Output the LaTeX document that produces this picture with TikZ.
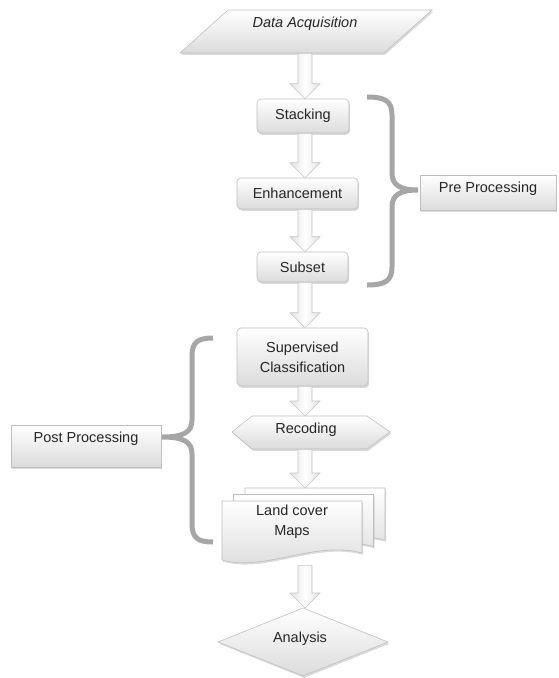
\documentclass[tikz,border=0pt]{standalone}
\usepackage{fontspec}
\setmainfont{Liberation Sans}
\usetikzlibrary{calc,shadows}

\tikzset{
  shade box/.style={draw=gray!50, line width=0.6pt, top color=white, bottom color=gray!28,
    drop shadow={shadow xshift=1.2pt, shadow yshift=-1.8pt, opacity=0.35, fill=gray!80}},
  procbox/.style={shade box, rounded corners=4pt, inner sep=0pt},
  sidebox/.style={shade box, inner sep=0pt, anchor=north},
  holder/.style={inner sep=0pt, anchor=north},
  blockarrow/.style={draw=gray!45, line width=0.6pt, left color=gray!22, right color=gray!22, middle color=white},
  brace/.style={draw=gray!70, line width=5pt}
}

% block arrow from the bottom of one node to the top of the next
\newcommand{\flowarrow}[2]{%
  \path[blockarrow] let \p1=(#1.south), \p2=(#2.north) in
    (298pt,\y1) -- (312pt,\y1) -- (312pt,\y2+15pt) -- (320pt,\y2+15pt)
    -- (305pt,\y2) -- (290pt,\y2+15pt) -- (298pt,\y2+15pt) -- cycle;}

\begin{document}
\begin{tikzpicture}[x=1pt, y=-1pt, font=\fontsize{14.5}{20}\selectfont, text=black!85]
  \useasboundingbox (0,0) rectangle (558,678);

  \draw [shade box] (228,10) -- (432,10) -- (384,53) -- (180,53) -- cycle;
  \node [holder, text height=17, text depth=26] (acq) at (305,10) {\itshape Data Acquisition};

  \node [procbox, minimum width=92, minimum height=34] (stack) at (303,116) {Stacking};
  \node [procbox, minimum width=121, minimum height=31] (enh) at (297.5,193.5) {Enhancement};
  \node [procbox, minimum width=91, minimum height=30] (subset) at (302.5,267) {Subset};
  \node [procbox, minimum width=131, minimum height=58, align=center] (superv) at (302.5,357) {Supervised\\Classification};

  \draw [shade box] (232,432) -- (252,416) -- (367,416) -- (390,432) -- (367,449) -- (252,449) -- cycle;
  \node [holder, text height=17, text depth=16] (recode) at (306,416) {Recoding};

  % three stacked sheets
  \foreach \dx/\dy in {23/-13, 11.5/-6.5, 0/0}
    \draw [shade box, shift={(\dx,\dy)}] (222,501) -- (362,501) -- (362,553)
      .. controls (315,540) and (265,572) .. (222,560) -- cycle;
  \node [holder, minimum height=77] (maps) at (302,488) {};
  \node [align=center] (mapstxt) at (292,522) {Land cover\\Maps};

  \draw [shade box] (303,608) -- (388,642) -- (303,676) -- (218,642) -- cycle;
  \node [holder, text height=34, text depth=34] (anal) at (300,608) {Analysis};

  \foreach \a/\b in {acq/stack, stack/enh, enh/subset, subset/superv, superv/recode, recode/maps, maps/anal}
    \flowarrow{\a}{\b};

  \node [sidebox, minimum width=136, text height=17, text depth=18] (pre) at (488,175) {Pre Processing};
  \node [sidebox, minimum width=150, text height=17, text depth=25] (post) at (86,425) {Post Processing};

  \draw [brace] (367,97) .. controls (385,97) and (392,101) .. (392,115) -- (392,173)
    .. controls (392,185) and (400,190) .. (418,190)
    .. controls (400,190) and (392,195) .. (392,207) -- (392,267)
    .. controls (392,281) and (385,285) .. (367,285);
  \draw [brace] (213,338) .. controls (198,338) and (192,342) .. (192,356) -- (192,420)
    .. controls (192,432) and (184,437) .. (162,437)
    .. controls (184,437) and (192,442) .. (192,454) -- (192,524)
    .. controls (192,538) and (198,542) .. (213,542);

\end{tikzpicture}
\end{document}
